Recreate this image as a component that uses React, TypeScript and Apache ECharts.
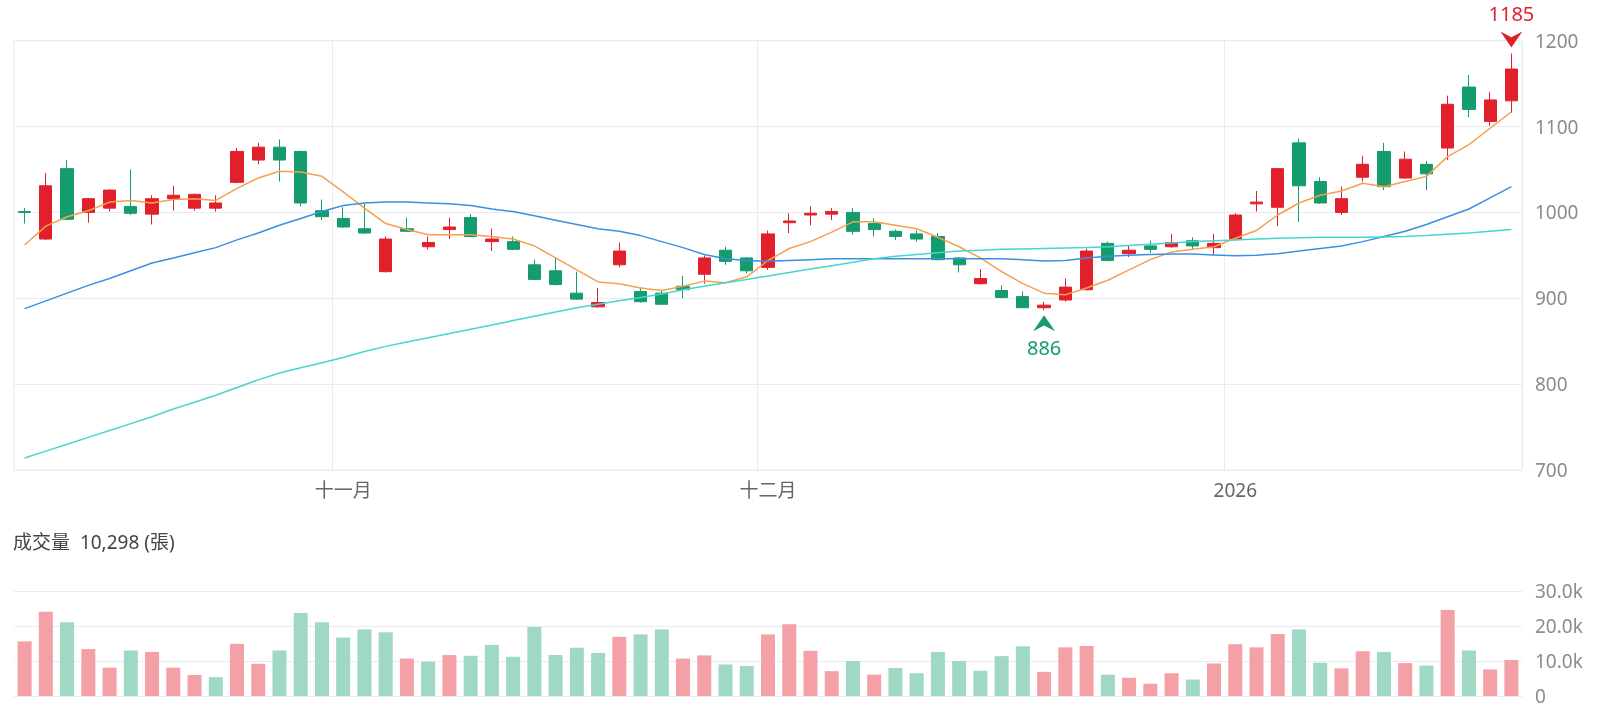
import React, { useEffect, useRef } from "react";
import * as echarts from "echarts";

const opens = [1001, 969, 1051, 1000, 1005, 1007, 998, 1016, 1005, 1005, 1035, 1061, 1076, 1071, 1002, 993, 981, 931, 981, 960, 980, 994, 966, 966, 939, 932, 906, 890, 939, 908, 906, 914, 928, 956, 947, 936, 988, 997, 998, 1000, 987, 978, 975, 972, 947, 917, 909, 902, 889, 898, 910, 964, 952, 961, 960, 967, 959, 969, 1010, 1006, 1081, 1036, 1000, 1041, 1071, 1040, 1056, 1075, 1146, 1106, 1130];
const closes = [1000, 1031, 992, 1016, 1026, 999, 1016, 1020, 1021, 1011, 1071, 1076, 1061, 1011, 995, 983, 976, 969, 978, 965, 983, 972, 969, 957, 922, 916, 899, 895, 955, 896, 893, 910, 947, 943, 932, 975, 990, 999, 1001, 978, 980, 972, 969, 945, 939, 923, 901, 889, 892, 913, 955, 944, 956, 957, 965, 961, 964, 997, 1012, 1051, 1031, 1011, 1016, 1056, 1030, 1062, 1045, 1126, 1120, 1131, 1167];
const lows = [987, 968, 991, 988, 1001, 997, 986, 1002, 1002, 1001, 1034, 1056, 1036, 1007, 991, 982, 975, 930, 977, 957, 969, 971, 955, 956, 921, 915, 898, 889, 936, 895, 892, 900, 917, 939, 929, 933, 976, 985, 991, 974, 972, 968, 966, 944, 930, 916, 900, 889, 886, 896, 909, 943, 948, 953, 959, 957, 951, 967, 1001, 984, 989, 1010, 997, 1036, 1026, 1039, 1026, 1061, 1111, 1101, 1116];
const highs = [1005, 1046, 1061, 1017, 1027, 1050, 1020, 1031, 1022, 1020, 1075, 1081, 1085, 1072, 1015, 1006, 1011, 972, 994, 972, 994, 998, 981, 972, 945, 948, 931, 912, 965, 913, 910, 926, 950, 960, 948, 979, 999, 1007, 1005, 1005, 993, 980, 979, 976, 948, 934, 915, 908, 896, 923, 958, 966, 961, 967, 975, 971, 975, 999, 1025, 1052, 1086, 1041, 1030, 1066, 1081, 1071, 1060, 1136, 1160, 1140, 1185];
const prevCloseBeforeFirst = 996;

const ma5 = [962, 984, 995, 1002, 1012, 1014, 1011, 1015, 1016, 1014, 1028, 1040, 1048, 1047, 1042, 1024, 1005, 987, 980, 974, 974, 974, 972, 969, 961, 947, 933, 919, 917, 912, 909, 914, 920, 918, 925, 944, 958, 966, 977, 989, 989, 985, 981, 971, 960, 947, 931, 917, 906, 904, 912, 921, 933, 945, 954, 957, 960, 970, 979, 997, 1011, 1020, 1025, 1034, 1030, 1036, 1042, 1065, 1079, 1098, 1117];
const ma20 = [888, 897, 906, 915, 923, 932, 941, 947, 953, 959, 968, 976, 985, 993, 1001, 1008, 1011, 1012, 1012, 1011, 1010, 1008, 1004, 1001, 996, 991, 986, 981, 978, 973, 966, 959, 951, 946, 944, 943, 944, 945, 946, 946, 946, 946, 946, 946, 946, 946, 946, 945, 943.5, 944, 947, 949, 950, 951, 951.5, 951.5, 950.5, 949.5, 950, 952, 955, 958, 961, 966, 972, 978, 986, 995, 1004, 1017, 1030];
const ma60 = [714, 722, 730, 738, 746, 754, 762, 771, 779, 787, 796, 805, 813, 819, 825, 831, 838, 844, 849, 854, 859, 864, 869, 874, 879, 884, 889, 893, 897, 901, 905, 910, 914, 918, 922, 926, 930, 934, 938, 942, 946, 949, 951, 953, 955, 956, 957, 957.5, 958, 958.5, 959, 960, 961.5, 963, 964.5, 966, 967, 968, 969, 970, 970.5, 971, 971, 971, 971.5, 972, 973, 974.5, 976, 978, 980];

const volumes = [15600, 24100, 21100, 13400, 8100, 13000, 12600, 8100, 6000, 5400, 14900, 9200, 13000, 23700, 21100, 16700, 19000, 18200, 10700, 9800, 11700, 11500, 14600, 11200, 19700, 11700, 13800, 12300, 16900, 17600, 19000, 10700, 11600, 9000, 8600, 17600, 20500, 12900, 7100, 10000, 6100, 8000, 6500, 12600, 10000, 7200, 11400, 14200, 6900, 13900, 14300, 6100, 5200, 3500, 6500, 4700, 9300, 14800, 13900, 17700, 19000, 9500, 7900, 12800, 12600, 9400, 8700, 24600, 13000, 7600, 10298];

const monthLabels = [
  { index: 15, label: "十一月" },
  { index: 35, label: "十二月" },
  { index: 57, label: "2026" },
];
const priceTicks = { min: 700, max: 1200, interval: 100 };
const volumeTicks = { min: 0, max: 30000, interval: 10000 };

const RED = "#e2202c";
const GREEN = "#159c6c";
const VOL_RED = "#f3a1a6";
const VOL_GREEN = "#9fd8c3";
const GRID = "#e8ebf2";
const FONT = '"Noto Sans", "Noto Sans CJK TC", sans-serif';

export default function App() {
  const ref = useRef<HTMLDivElement>(null);
  useEffect(() => {
    if (!ref.current) return;
    const chart = echarts.init(ref.current, undefined, { renderer: "svg" });
    const categories = closes.map((_, i) => String(i));
    const candle = closes.map((c, i) => [opens[i], c, lows[i], highs[i]]);
    const volData = volumes.map((v, i) => {
      const prev = i === 0 ? prevCloseBeforeFirst : closes[i - 1];
      return { value: v, itemStyle: { color: closes[i] >= prev ? VOL_RED : VOL_GREEN } };
    });
    let maxIdx = 0;
    let minIdx = 0;
    highs.forEach((h, i) => { if (h > highs[maxIdx]) maxIdx = i; });
    lows.forEach((l, i) => { if (l < lows[minIdx]) minIdx = i; });
    const labelMap: Record<number, string> = {};
    monthLabels.forEach((m) => (labelMap[m.index] = m.label));
    const lastVol = volumes[volumes.length - 1].toLocaleString("en-US");

    chart.setOption({
      animation: false,
      textStyle: { fontFamily: FONT },
      graphic: [
        {
          type: "text",
          left: 13,
          top: 532,
          style: { text: `成交量  ${lastVol} (張)`, fill: "#444", fontSize: 19, fontFamily: FONT },
        },
      ],
      grid: [
        { left: 14, right: 78, top: 40.7, height: 429.3, show: true, borderColor: GRID, borderWidth: 1 },
        { left: 14, right: 78, top: 591, height: 105 },
      ],
      xAxis: [
        {
          type: "category",
          gridIndex: 0,
          data: categories,
          boundaryGap: true,
          axisLine: { show: false },
          axisTick: { show: false },
          axisLabel: {
            interval: (idx: number) => labelMap[idx] !== undefined,
            formatter: (_v: string, idx: number) => labelMap[idx] ?? "",
            color: "#666",
            fontSize: 19,
            margin: 10,
          },
          splitLine: {
            show: true,
            interval: (idx: number) => labelMap[idx] !== undefined,
            lineStyle: { color: GRID, width: 1 },
          },
        },
        {
          type: "category",
          gridIndex: 1,
          data: categories,
          boundaryGap: true,
          axisLine: { show: false },
          axisTick: { show: false },
          axisLabel: { show: false },
          splitLine: { show: false },
        },
      ],
      yAxis: [
        {
          type: "value",
          gridIndex: 0,
          position: "right",
          min: priceTicks.min,
          max: priceTicks.max,
          interval: priceTicks.interval,
          axisLine: { show: false },
          axisTick: { show: false },
          axisLabel: { color: "#8c8c8c", fontSize: 19, margin: 13, formatter: (v: number) => String(v) },
          splitLine: { lineStyle: { color: GRID, width: 1 } },
        },
        {
          type: "value",
          gridIndex: 1,
          position: "right",
          min: volumeTicks.min,
          max: volumeTicks.max,
          interval: volumeTicks.interval,
          axisLine: { show: false },
          axisTick: { show: false },
          axisLabel: {
            color: "#8c8c8c",
            fontSize: 19,
            margin: 13,
            formatter: (v: number) => (v === 0 ? "0" : (v / 1000).toFixed(1) + "k"),
          },
          splitLine: { lineStyle: { color: GRID, width: 1 } },
        },
      ],
      series: [
        {
          type: "candlestick",
          xAxisIndex: 0,
          yAxisIndex: 0,
          data: candle,
          barWidth: "60%",
          itemStyle: { color: RED, color0: GREEN, borderColor: RED, borderColor0: GREEN, borderWidth: 1 },
          markPoint: {
            symbolKeepAspect: false,
            data: [
              {
                coord: [categories[maxIdx], highs[maxIdx]],
                value: highs[maxIdx],
                symbol: "path://M0,0 L10,5 L20,0 L10,14 Z",
                symbolSize: [22, 16],
                symbolOffset: [0, -14],
                itemStyle: { color: RED },
                label: { show: true, position: "top", distance: 8, formatter: String(highs[maxIdx]), color: RED, fontSize: 20 },
              },
              {
                coord: [categories[minIdx], lows[minIdx]],
                value: lows[minIdx],
                symbol: "path://M10,0 L20,14 L10,9 L0,14 Z",
                symbolSize: [22, 16],
                symbolOffset: [0, 13],
                itemStyle: { color: GREEN },
                label: { show: true, position: "bottom", distance: 6, formatter: String(lows[minIdx]), color: GREEN, fontSize: 20 },
              },
            ],
          },
        },
        { type: "line", xAxisIndex: 0, yAxisIndex: 0, data: ma5, symbol: "none", lineStyle: { color: "#f5a04e", width: 1.5 }, z: 3 },
        { type: "line", xAxisIndex: 0, yAxisIndex: 0, data: ma20, symbol: "none", lineStyle: { color: "#3b8fe2", width: 1.5 }, z: 3 },
        { type: "line", xAxisIndex: 0, yAxisIndex: 0, data: ma60, symbol: "none", lineStyle: { color: "#45d6d2", width: 1.5 }, z: 3 },
        { type: "bar", xAxisIndex: 1, yAxisIndex: 1, data: volData, barWidth: "66%" },
      ],
    });
    return () => chart.dispose();
  }, []);
  return <div ref={ref} style={{ position: "fixed", left: 0, top: 0, width: 1600, height: 713 }} />;
}
